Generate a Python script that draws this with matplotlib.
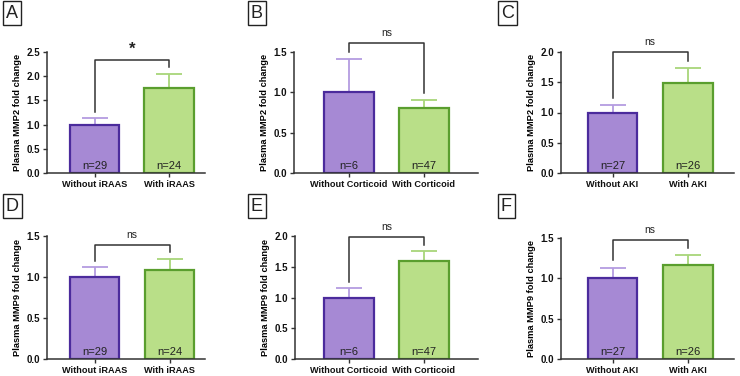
import matplotlib
matplotlib.use("Agg")
import matplotlib.pyplot as plt

plt.rcParams['font.family'] = ['Liberation Sans', 'DejaVu Sans']

# ---- data ----
panel_letters = ["A", "B", "C", "D", "E", "F"]
group_labels = [
    ["Without iRAAS", "With iRAAS"],
    ["Without Corticoid", "With Corticoid"],
    ["Without AKI", "With AKI"],
    ["Without iRAAS", "With iRAAS"],
    ["Without Corticoid", "With Corticoid"],
    ["Without AKI", "With AKI"],
]
ylabels = ["Plasma MMP2 fold change"] * 3 + ["Plasma MMP9 fold change"] * 3
means = [
    [1.00, 1.75],
    [1.00, 0.80],
    [1.00, 1.48],
    [1.00, 1.09],
    [1.00, 1.60],
    [1.00, 1.16],
]
sems = [
    [0.13, 0.30],
    [0.41, 0.10],
    [0.13, 0.26],
    [0.12, 0.13],
    [0.15, 0.15],
    [0.13, 0.13],
]
n_labels = [
    ["n=29", "n=24"],
    ["n=6", "n=47"],
    ["n=27", "n=26"],
    ["n=29", "n=24"],
    ["n=6", "n=47"],
    ["n=27", "n=26"],
]
ymax = [2.5, 1.5, 2.0, 1.5, 2.0, 1.5]
# bracket: (left leg bottom, top, right leg bottom)
brackets = [
    (1.26, 2.33, 2.19),
    (1.50, 1.61, 0.99),
    (1.24, 2.00, 1.85),
    (1.20, 1.39, 1.30),
    (1.25, 1.99, 1.85),
    (1.23, 1.48, 1.38),
]
sig = ["*", "ns", "ns", "ns", "ns", "ns"]

# ---- style ----
W, H = 740, 376
fill_colors = ["#a689d4", "#b9df88"]
edge_colors = ["#4b2b9c", "#5a9e2e"]
err_colors = ["#b49ce0", "#a8d67a"]
axis_col = "#333333"

# axes pixel boxes: (x0, x1, ytop, ybottom)
boxes = [
    (47, 205, 52, 173),
    (294, 478, 52, 173),
    (561, 734, 52, 173),
    (47, 205, 236, 359),
    (295, 478, 236, 359),
    (561, 734, 238, 359),
]
# left offset of first bar centre (px) and bar spacing (px)
bar_off = [47.5, 55, 51.5, 47.5, 54, 51.5]
bar_dist = [74.5, 75, 75.5, 75, 75, 75.5]
label_pos = [(3, 3), (248, 3), (498, 3), (3, 196), (248, 196), (498, 196)]

fig = plt.figure(figsize=(W / 100, H / 100), dpi=100)

for i in range(6):
    x0, x1, yt, yb = boxes[i]
    ax = fig.add_axes([x0 / W, 1 - yb / H, (x1 - x0) / W, (yb - yt) / H])
    d = bar_dist[i]
    left = -bar_off[i] / d
    ax.set_xlim(left, left + (x1 - x0) / d)
    ax.set_ylim(0, ymax[i])
    xs = [0, 1]
    for j in range(2):
        ax.errorbar(xs[j], means[i][j], yerr=[[0], [sems[i][j]]], fmt="none",
                    ecolor=err_colors[j], elinewidth=1.3, capsize=9.5,
                    capthick=1.3, zorder=1)
        ax.bar(xs[j], means[i][j], width=0.66, color=fill_colors[j],
               edgecolor=edge_colors[j], linewidth=1.6, zorder=2)
        ax.text(xs[j], ymax[i] * 0.06, n_labels[i][j], ha="center", va="center",
                fontsize=8, color="#222222", zorder=3)
    lb, top, rb = brackets[i]
    ax.plot([0, 0, 1, 1], [lb, top, top, rb], color=axis_col, lw=1.1,
            clip_on=False, zorder=4)
    if sig[i] == "*":
        ax.text(0.5, top + ymax[i] * 0.025, "*", ha="center", va="bottom",
                fontsize=12, fontweight="bold", color="#222222")
    else:
        ax.text(0.5, top + ymax[i] * 0.04, "ns", ha="center", va="bottom",
                fontsize=7.5, color="#222222")
    ax.set_xticks(xs)
    ax.set_xticklabels(group_labels[i], fontsize=6.6, fontweight="bold")
    ticks = [k * 0.5 for k in range(int(round(ymax[i] / 0.5)) + 1)]
    ax.set_yticks(ticks)
    ax.set_yticklabels([f"{t:.1f}" for t in ticks], fontsize=7, fontweight="bold")
    ax.set_ylabel(ylabels[i], fontsize=6.7, fontweight="bold", labelpad=3)
    for s in ["top", "right"]:
        ax.spines[s].set_visible(False)
    for s in ["left", "bottom"]:
        ax.spines[s].set_color(axis_col)
        ax.spines[s].set_linewidth(1.1)
    ax.tick_params(axis="both", length=3, width=1.0, color=axis_col, pad=2,
                   labelcolor="#111111")
    lx, ly = label_pos[i]
    fig.text(lx / W + 0.004, 1 - ly / H - 0.004, panel_letters[i], ha="left", va="top",
             fontsize=13, color="#222222",
             bbox=dict(boxstyle="square,pad=0.18", fc="white", ec="#222222", lw=1.0))

fig.savefig("out.png", dpi=100)
